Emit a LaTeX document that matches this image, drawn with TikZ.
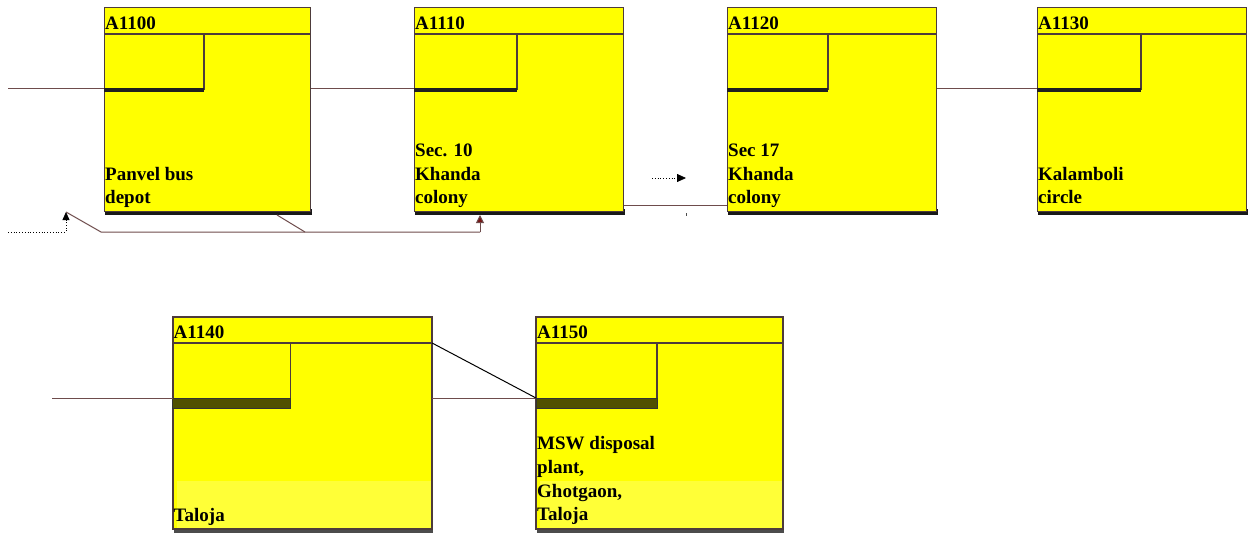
\documentclass[tikz,border=0pt]{standalone}
\usepackage{fontspec}
\setmainfont{Liberation Serif}
\usetikzlibrary{arrows.meta}
\definecolor{boxyellow}{RGB}{255,255,0}
\definecolor{paleyellow}{RGB}{255,255,55}
\definecolor{edgecol}{RGB}{77,59,59}
\definecolor{conncol}{RGB}{110,76,76}
\definecolor{darkred}{RGB}{120,20,20}
\definecolor{olivebar}{RGB}{80,80,0}
\tikzset{
  procbox/.style={draw=edgecol, line width=1.1pt, fill=boxyellow, anchor=north west, inner sep=0pt},
  inner/.style={draw=edgecol, line width=1.1pt},
  conn/.style={draw=conncol, line width=1pt},
  title/.style={anchor=base west, inner sep=0pt, font=\bfseries\fontsize{19}{23.5}\selectfont},
  label/.style={anchor=south west, inner sep=0pt, text depth=0pt, align=left, font=\bfseries\fontsize{19}{23.7}\selectfont},
}
\newcommand\mybox[9]{%
  \node[procbox, minimum width=#4pt, minimum height=#5pt] (#1) at (#2,#3) {};
  \draw[inner] ([yshift=-#7pt]#1.north west) -- ([yshift=-#7pt]#1.north east);
  \draw[inner] ([yshift=-#7pt, xshift=#6pt]#1.north west) -- ([yshift=-#8pt, xshift=#6pt]#1.north west);
  \node[title] (#1t) at ([xshift=1pt, yshift=-#9pt]#1.north west) {\csname T#1\endcsname};
}
\begin{document}
\begin{tikzpicture}[x=1pt, y=-1pt]
\useasboundingbox (0,0) rectangle (1251,533);
% shadows row 1
\foreach \xx/\ww in {104/206, 414/209, 727/209, 1037/209}{
  \fill[black!90] (\xx+1,209) rectangle (\xx+\ww+2,215);
}
% shadows row 2
\fill[black!70] (174,526) rectangle (433,533);
\fill[black!70] (537,526) rectangle (784,533);

\def\Tba{A1100}\def\Tbb{A1110}\def\Tbc{A1120}\def\Tbd{A1130}\def\Tbe{A1140}\def\Tbf{A1150}
\mybox{ba}{104}{7}{206}{204}{100}{27}{82.5}{22}
\mybox{bb}{414}{7}{209}{204}{103}{27}{82.5}{22}
\mybox{bc}{727}{7}{209}{204}{101}{27}{82.5}{22}
\mybox{bd}{1037}{7}{209}{204}{104}{27}{82.5}{22}
\mybox{be}{172.5}{317}{258.5}{211}{118}{26}{81}{21}
\mybox{bf}{536}{317}{246}{211}{121}{26}{81}{21}
% row 2 pale band
\fill[paleyellow] (177,481) rectangle (430.5,527.5);
\fill[paleyellow] (540,481) rectangle (781.5,527.5);
% re-draw borders of row 2 over the pale band
\draw[edgecol, line width=1.1pt] (be.north west) rectangle (be.south east);
\draw[edgecol, line width=1.1pt] (bf.north west) rectangle (bf.south east);

% inner thick bars
\foreach \n/\w in {ba/100, bb/103, bc/101, bd/104}{
  \fill[black!88] ([yshift=-81pt]\n.north west) rectangle ([yshift=-84.5pt, xshift=\w pt]\n.north west);
}
\fill[olivebar, draw=black!80, line width=0.6pt] ([yshift=-81pt]be.north west) rectangle ([yshift=-91pt, xshift=118pt]be.north west);
\fill[olivebar, draw=black!80, line width=0.6pt] ([yshift=-81pt]bf.north west) rectangle ([yshift=-91pt, xshift=121pt]bf.north west);

% labels
\node[label] (la) at (105,204) {Panvel bus\\depot};
\node[label] (lb) at (415,204) {Sec. 10\\Khanda\\colony};
\node[label] (lc) at (728,204) {Sec 17\\Khanda\\colony};
\node[label] (ld) at (1038,204) {Kalamboli\\circle};
\node[label] (le) at (173.5,522) {Taloja};
\node[label] (lf) at (537,521) {MSW disposal\\plant,\\Ghotgaon,\\Taloja};

% connectors row 1
\coordinate (lvl) at (0,88);
\coordinate (low) at (0,205);
\coordinate (in0) at (8,88);
\draw[conn] (in0) -- (ba.west |- lvl);
\draw[conn] (ba.east |- lvl) -- (bb.west |- lvl);
\draw[conn] (bc.east |- lvl) -- (bd.west |- lvl);
\draw[conn] (bb.east |- low) -- (bc.west |- low);

% dotted input arrow
\coordinate (dstart) at (8,232);
\coordinate (dcorner) at (66,232);
\coordinate (dtip) at (66,212);
\draw[black, dotted, line width=0.8pt, -{Triangle[length=8pt,width=7pt]}] (dstart) -- (dcorner) -- (dtip);

% feedback line
\coordinate (fa) at (101,232);
\coordinate (fb) at (480,232);
\coordinate (fc) at (480,215);
\coordinate (fd) at (277,215);
\coordinate (fe) at (305,232);
\draw[conn] (dtip) -- (fa) -- (fb);
\draw[conn, -{Triangle[length=8pt,width=8pt,fill=darkred]}] (fb) -- (fc);
\draw[conn] (fd) -- (fe);

% dotted arrow between
\coordinate (ma) at (652,178);
\coordinate (mb) at (686,178);
\draw[black, dotted, line width=0.8pt, -{Triangle[length=9pt,width=8pt]}] (ma) -- (mb);
\coordinate (tka) at (686,213);
\coordinate (tkb) at (686,216);
\draw[black!70, line width=0.6pt] (tka) -- (tkb);

% row 2 connectors
\coordinate (lvlb) at (0,398);
\coordinate (in1) at (52,398);
\draw[conn] (in1) -- (be.west |- lvlb);
\draw[conn] (be.east |- lvlb) -- (bf.west |- lvlb);
\draw[black, line width=1pt] ([yshift=-26pt]be.north east) -- (bf.west |- lvlb);
\end{tikzpicture}
\end{document}
